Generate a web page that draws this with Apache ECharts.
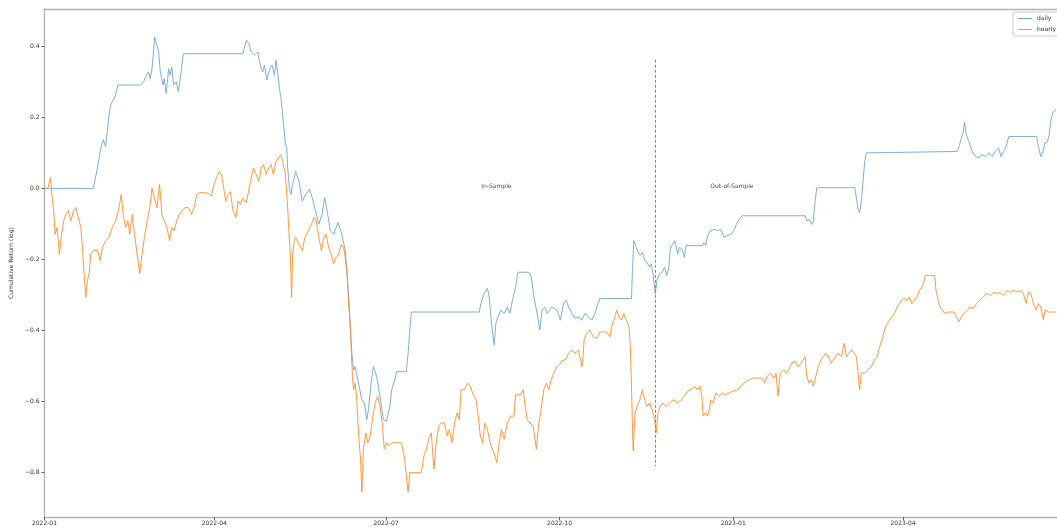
<!DOCTYPE html>
<html>
<head>
<meta charset="utf-8">
<script src="https://cdn.jsdelivr.net/npm/echarts@6/dist/echarts.min.js"></script>
<style>
html,body{margin:0;padding:0;background:#fff;}
#chart{width:1057px;height:531px;}
</style>
</head>
<body>
<div id="chart"></div>
<script>
// x values are days since 2022-01-01
const seriesNames = ['daily', 'hourly'];
const xTickDays = [0, 90, 181, 273, 365, 455];
const xTickLabels = ['2022-01', '2022-04', '2022-07', '2022-10', '2023-01', '2023-04'];
const yTickValues = [-0.8, -0.6, -0.4, -0.2, 0.0, 0.2, 0.4];
const yAxisTitle = 'Cumulative Return (log)';
const splitDay = 323.8;
const splitLineRange = [-0.782, 0.362];
const annotationDays = [239.5, 364.3];
const annotationValues = [0.006, 0.006];
const annotationTexts = ['In-Sample', 'Out-of-Sample'];

const dailyDays = [0,26,26.3,28.1,29.8,31.2,32.4,33.3,34.2,35.1,36.8,37.7,38.9,50.9,52.6,53.5,55.2,56.1,57.0,58.4,59.3,60.5,61.4,62.8,63.5,64.5,65.8,66.6,67.5,68.4,69.8,71.0,72.2,73.6,105.2,107.0,108.4,109.6,111.3,113.1,114.0,114.9,115.7,116.6,117.8,119.2,120.6,121.9,122.7,123.6,124.5,125.4,126.2,127.1,127.7,128.4,128.9,129.8,130.6,131.5,132.4,133.1,134.9,136.6,138.4,140.5,141.9,143.6,145.4,147.1,148.5,149.8,151.5,153.3,155.5,157.6,159.4,160.3,161.2,162.0,162.9,163.8,164.7,166.4,168.2,169.6,170.8,171.7,173.1,174.3,176.1,177.8,179.6,181.3,183.1,184.0,185.7,186.6,191.8,192.7,193.6,194.5,230.4,231.3,233.0,234.8,235.7,236.9,238.3,239.2,240.4,241.8,243.6,245.3,246.7,248.0,249.7,250.9,256.7,258.0,259.4,261.1,262.5,263.7,265.0,266.4,269.0,271.6,273.4,275.1,276.5,277.8,279.5,281.3,283.0,284.8,286.5,288.3,290.0,291.8,293.0,294.4,311.1,311.6,312.3,313.3,314.6,315.8,316.9,318.1,319.3,320.7,321.6,322.5,323.7,324.6,326.0,327.4,328.6,329.8,330.9,331.8,333.0,333.9,334.7,335.6,336.5,337.9,339.1,340.0,348.8,349.6,350.5,351.4,353.2,354.9,356.7,358.4,360.2,361.9,363.7,365.4,366.7,368.1,369.8,403.1,404.0,405.2,406.6,407.5,408.4,409.3,429.4,430.3,431.2,432.0,432.9,433.8,434.7,435.6,436.4,483.8,484.7,485.9,487.0,487.6,488.5,489.9,491.7,493.4,495.2,496.9,498.7,500.4,502.2,503.9,505.7,506.9,508.3,509.7,511.0,525.9,526.7,528.0,529.0,530.2,531.5,532.5,533.2,534.6,536.0];
const dailyValues = [0,0,0.011,0.058,0.114,0.137,0.118,0.160,0.207,0.235,0.253,0.263,0.291,0.291,0.300,0.314,0.328,0.309,0.337,0.426,0.431,0.384,0.328,0.291,0.309,0.267,0.337,0.319,0.342,0.291,0.300,0.272,0.319,0.379,0.379,0.417,0.407,0.384,0.375,0.384,0.356,0.337,0.328,0.347,0.305,0.333,0.347,0.319,0.361,0.328,0.281,0.253,0.207,0.160,0.123,0.114,0.058,0.000,-0.017,0.011,0.030,0.048,0.020,-0.036,-0.017,-0.003,-0.026,-0.063,-0.101,-0.073,-0.026,-0.063,-0.119,-0.129,-0.096,-0.129,-0.175,-0.231,-0.306,-0.380,-0.464,-0.511,-0.502,-0.548,-0.595,-0.604,-0.651,-0.623,-0.548,-0.502,-0.530,-0.585,-0.651,-0.655,-0.613,-0.567,-0.539,-0.516,-0.516,-0.464,-0.399,-0.348,-0.348,-0.324,-0.296,-0.282,-0.306,-0.380,-0.441,-0.380,-0.362,-0.343,-0.352,-0.334,-0.352,-0.315,-0.278,-0.236,-0.236,-0.250,-0.306,-0.352,-0.399,-0.343,-0.334,-0.352,-0.334,-0.343,-0.371,-0.324,-0.315,-0.334,-0.352,-0.366,-0.362,-0.371,-0.352,-0.362,-0.371,-0.352,-0.329,-0.310,-0.310,-0.231,-0.147,-0.161,-0.180,-0.189,-0.180,-0.203,-0.208,-0.222,-0.212,-0.240,-0.296,-0.259,-0.240,-0.236,-0.222,-0.245,-0.222,-0.166,-0.157,-0.147,-0.161,-0.185,-0.166,-0.171,-0.194,-0.161,-0.161,-0.152,-0.161,-0.133,-0.119,-0.115,-0.119,-0.115,-0.138,-0.133,-0.129,-0.119,-0.101,-0.087,-0.077,-0.077,-0.091,-0.088,-0.101,-0.091,-0.036,0.002,0.002,-0.026,-0.059,-0.068,-0.036,0.020,0.076,0.100,0.104,0.104,0.118,0.141,0.160,0.186,0.151,0.132,0.104,0.090,0.086,0.095,0.090,0.100,0.090,0.104,0.114,0.090,0.104,0.118,0.146,0.146,0.118,0.090,0.100,0.128,0.132,0.151,0.188,0.216,0.221];

const hourlyDays = [0,1.75,3.2,3.9,4.9,5.6,6.7,7.9,9.1,10.2,11.4,12.6,14.0,15.4,16.7,17.9,19.3,20.2,21.0,21.9,22.8,23.7,24.5,26.0,28.1,29.5,30.7,32.4,34.2,35.9,37.7,39.5,40.7,41.7,43.0,44.2,45.2,46.5,47.7,49.1,50.5,51.7,53.0,54.4,55.8,57.0,58.2,59.6,61.0,62.2,63.5,64.9,66.3,67.5,68.7,70.1,71.5,72.8,74.5,76.3,78.0,79.3,80.7,82.4,85.9,88.5,89.8,91.2,92.6,93.8,95.0,96.1,97.3,98.5,99.9,101.4,102.6,103.8,105.2,107.0,108.4,109.6,110.8,112.2,113.6,114.9,116.1,117.5,118.9,120.1,121.3,122.7,124.1,125.4,126.2,127.7,128.9,129.4,130.1,130.6,131.0,131.5,132.4,133.1,134.9,136.6,138.0,139.8,141.5,142.7,144.0,145.4,146.8,148.0,149.2,150.6,152.0,153.3,154.5,155.9,157.3,158.5,159.4,160.3,161.2,162.0,162.6,163.3,163.8,164.7,165.5,166.1,166.8,167.5,168.2,169.0,170.3,171.3,172.6,173.8,175.2,176.6,177.8,179.0,180.1,181.3,182.5,184.0,189.2,190.6,191.8,192.7,193.6,199.7,201.1,202.4,203.6,205.0,206.4,207.6,208.9,210.3,212.0,213.4,214.6,215.9,217.3,218.7,219.9,220.8,222.5,224.3,225.7,226.9,228.7,229.9,231.0,232.2,233.4,234.8,236.2,237.4,238.7,239.7,241.0,242.2,243.6,245.3,247.1,248.8,249.7,252.3,253.7,255.0,255.8,257.2,259.0,260.7,262.0,263.2,264.6,266.0,267.2,268.5,269.9,271.6,273.4,274.8,276.0,277.8,279.5,281.3,283.0,284.8,285.3,286.0,287.4,289.1,290.9,292.7,294.4,297.9,299.7,300.5,301.8,303.2,304.6,305.8,307.0,308.4,309.8,310.5,311.1,311.6,312.0,312.5,313.0,314.0,315.5,316.9,318.1,319.3,320.7,322.1,323.3,324.2,325.1,326.3,327.7,329.5,331.2,333.3,335.6,337.4,339.1,340.9,342.6,344.4,346.1,347.4,348.4,349.1,350.2,351.4,352.3,353.1,354.4,355.8,357.5,359.3,361.0,362.8,364.5,367.2,368.9,370.7,375.1,380.3,381.7,383.0,384.7,386.5,387.7,388.7,390.0,391.7,393.5,395.2,396.1,397.9,399.6,401.4,403.1,404.0,405.2,406.3,407.5,408.7,410.1,411.5,412.8,414.0,415.4,416.8,418.0,419.2,420.6,422.4,423.8,425.0,426.3,427.7,429.1,430.3,431.2,432.0,432.9,434.7,436.4,438.2,439.9,441.3,442.6,443.8,445.2,446.6,447.8,449.1,450.5,451.9,453.1,454.3,455.7,457.1,458.3,459.6,461.0,462.4,463.6,464.8,465.9,466.8,469.7,471.8,472.5,473.6,474.7,475.9,477.1,478.5,480.3,482.0,483.4,484.6,485.9,487.3,489.0,490.8,492.2,494.0,495.7,497.5,499.6,501.3,503.1,504.8,506.6,508.3,510.1,511.8,513.9,515.7,517.4,518.8,520.2,521.5,522.7,524.1,525.5,526.7,528.0,529.4,530.2,532.0,536.0];
const hourlyValues = [0,0,0.030,-0.017,-0.063,-0.129,-0.110,-0.185,-0.129,-0.091,-0.073,-0.063,-0.091,-0.063,-0.054,-0.082,-0.110,-0.175,-0.240,-0.306,-0.259,-0.240,-0.185,-0.175,-0.175,-0.203,-0.166,-0.147,-0.138,-0.110,-0.091,-0.054,-0.017,-0.073,-0.110,-0.091,-0.129,-0.073,-0.129,-0.185,-0.240,-0.185,-0.138,-0.091,-0.054,0.000,-0.027,-0.054,0.011,-0.073,-0.091,-0.110,-0.147,-0.110,-0.119,-0.091,-0.073,-0.063,-0.054,-0.054,-0.073,-0.054,-0.017,-0.012,-0.012,-0.021,0.011,0.030,0.048,0.039,0.000,-0.036,-0.017,-0.009,-0.063,-0.082,-0.036,-0.045,-0.027,-0.040,0.000,0.030,0.058,0.039,0.020,0.058,0.067,0.039,0.058,0.067,0.039,0.076,0.086,0.095,0.076,0.039,-0.054,-0.110,-0.166,-0.240,-0.306,-0.185,-0.147,-0.138,-0.157,-0.175,-0.138,-0.119,-0.101,-0.082,-0.091,-0.138,-0.175,-0.138,-0.129,-0.166,-0.185,-0.212,-0.194,-0.185,-0.157,-0.166,-0.194,-0.240,-0.324,-0.380,-0.455,-0.539,-0.567,-0.548,-0.595,-0.660,-0.716,-0.762,-0.855,-0.734,-0.688,-0.716,-0.697,-0.651,-0.604,-0.585,-0.613,-0.660,-0.734,-0.716,-0.725,-0.716,-0.716,-0.753,-0.809,-0.855,-0.800,-0.800,-0.753,-0.734,-0.706,-0.688,-0.790,-0.716,-0.669,-0.660,-0.660,-0.697,-0.679,-0.716,-0.660,-0.632,-0.651,-0.567,-0.567,-0.548,-0.557,-0.576,-0.595,-0.641,-0.697,-0.716,-0.660,-0.679,-0.716,-0.734,-0.753,-0.772,-0.716,-0.679,-0.706,-0.660,-0.641,-0.641,-0.581,-0.581,-0.567,-0.623,-0.651,-0.660,-0.669,-0.734,-0.660,-0.623,-0.567,-0.548,-0.567,-0.539,-0.520,-0.502,-0.492,-0.483,-0.483,-0.464,-0.455,-0.464,-0.455,-0.502,-0.483,-0.427,-0.408,-0.399,-0.418,-0.422,-0.404,-0.404,-0.418,-0.390,-0.371,-0.343,-0.362,-0.371,-0.352,-0.371,-0.390,-0.446,-0.557,-0.669,-0.739,-0.678,-0.632,-0.614,-0.595,-0.567,-0.595,-0.614,-0.604,-0.623,-0.651,-0.688,-0.632,-0.614,-0.604,-0.614,-0.604,-0.595,-0.604,-0.595,-0.585,-0.571,-0.567,-0.557,-0.567,-0.557,-0.585,-0.641,-0.632,-0.641,-0.623,-0.595,-0.604,-0.576,-0.585,-0.576,-0.581,-0.576,-0.571,-0.567,-0.557,-0.548,-0.534,-0.534,-0.548,-0.529,-0.520,-0.534,-0.520,-0.585,-0.520,-0.511,-0.520,-0.502,-0.492,-0.488,-0.502,-0.488,-0.474,-0.530,-0.548,-0.539,-0.557,-0.530,-0.502,-0.483,-0.474,-0.464,-0.474,-0.492,-0.483,-0.474,-0.464,-0.474,-0.436,-0.474,-0.464,-0.455,-0.464,-0.474,-0.520,-0.567,-0.520,-0.520,-0.511,-0.502,-0.483,-0.474,-0.446,-0.427,-0.399,-0.380,-0.371,-0.362,-0.352,-0.334,-0.324,-0.315,-0.310,-0.315,-0.306,-0.324,-0.315,-0.306,-0.287,-0.278,-0.269,-0.245,-0.245,-0.245,-0.287,-0.315,-0.334,-0.343,-0.352,-0.348,-0.348,-0.348,-0.362,-0.376,-0.362,-0.352,-0.343,-0.334,-0.338,-0.324,-0.315,-0.306,-0.296,-0.301,-0.292,-0.296,-0.292,-0.301,-0.287,-0.292,-0.287,-0.292,-0.287,-0.296,-0.324,-0.292,-0.296,-0.324,-0.343,-0.324,-0.334,-0.371,-0.343,-0.348,-0.348];

const zip = (xs, ys) => xs.map((x, i) => [x, ys[i]]);
const font = 'DejaVu Sans';
const spine = '#b3b3b3';
const blue = '#6ea6d6';
const orange = '#ff8d2a';

const chart = echarts.init(document.getElementById('chart'), null, {renderer: 'canvas'});
const xMin = 0, xMax = 536.6, yMin = -0.925, yMax = 0.505;

chart.setOption({
  animation: false,
  backgroundColor: '#ffffff',
  grid: {left: 37, right: 0, top: 9, bottom: 14},
  legend: {
    data: seriesNames,
    left: 1013, top: 12, orient: 'vertical',
    icon: 'rect', itemWidth: 14, itemHeight: 1, itemGap: 4,
    textStyle: {fontSize: 6, fontFamily: font, color: '#333', lineHeight: 7},
    borderColor: '#cccccc', borderWidth: 1, borderRadius: 2,
    padding: [3, 4, 3, 5]
  },
  xAxis: [{
    type: 'value', min: xMin, max: xMax,
    splitLine: {show: false},
    axisLine: {show: true, onZero: false, lineStyle: {color: spine, width: 1.4}},
    axisTick: {show: true, customValues: xTickDays, length: 3, lineStyle: {color: '#666'}},
    axisLabel: {
      customValues: xTickDays, fontSize: 6, fontFamily: font, color: '#333', margin: 3,
      formatter: v => { const i = xTickDays.indexOf(v); return i >= 0 ? xTickLabels[i] : ''; }
    }
  }, {
    type: 'value', position: 'top', min: xMin, max: xMax,
    splitLine: {show: false},
    axisLine: {show: true, onZero: false, lineStyle: {color: spine, width: 1.4}},
    axisTick: {show: false}, axisLabel: {show: false}
  }],
  yAxis: {
    type: 'value', min: yMin, max: yMax,
    name: yAxisTitle, nameLocation: 'middle', nameGap: 27, nameRotate: 90,
    nameTextStyle: {fontSize: 6, fontFamily: font, color: '#333'},
    splitLine: {show: false},
    axisLine: {show: true, onZero: false, lineStyle: {color: spine, width: 1.4}},
    axisTick: {show: true, customValues: yTickValues, length: 3, lineStyle: {color: '#666'}},
    axisLabel: {
      customValues: yTickValues, fontSize: 6, fontFamily: font, color: '#333', margin: 5,
      formatter: v => v.toFixed(1).replace('-', '\u2212')
    }
  },
  series: [{
    name: seriesNames[0], type: 'line', data: zip(dailyDays, dailyValues),
    symbol: 'none', lineStyle: {color: blue, width: 0.9}, itemStyle: {color: blue},
    z: 2,
    markLine: {
      silent: true, symbol: ['none', 'none'], label: {show: false},
      lineStyle: {color: '#888', type: [3, 2], width: 1},
      data: [[{coord: [splitDay, splitLineRange[1]]}, {coord: [splitDay, splitLineRange[0]]}]]
    }
  }, {
    name: seriesNames[1], type: 'line', data: zip(hourlyDays, hourlyValues),
    symbol: 'none', lineStyle: {color: orange, width: 0.9}, itemStyle: {color: orange},
    z: 3
  }, {
    name: 'annotations', type: 'scatter', symbolSize: 1, silent: true,
    itemStyle: {color: 'rgba(0,0,0,0)'},
    data: annotationDays.map((d, i) => [d, annotationValues[i], annotationTexts[i]]),
    label: {show: true, position: 'inside', formatter: p => p.value[2],
      fontSize: 6, fontFamily: font, color: '#222'},
    labelLayout: {hideOverlap: false},
    z: 4
  }]
});
</script>
</body>
</html>
